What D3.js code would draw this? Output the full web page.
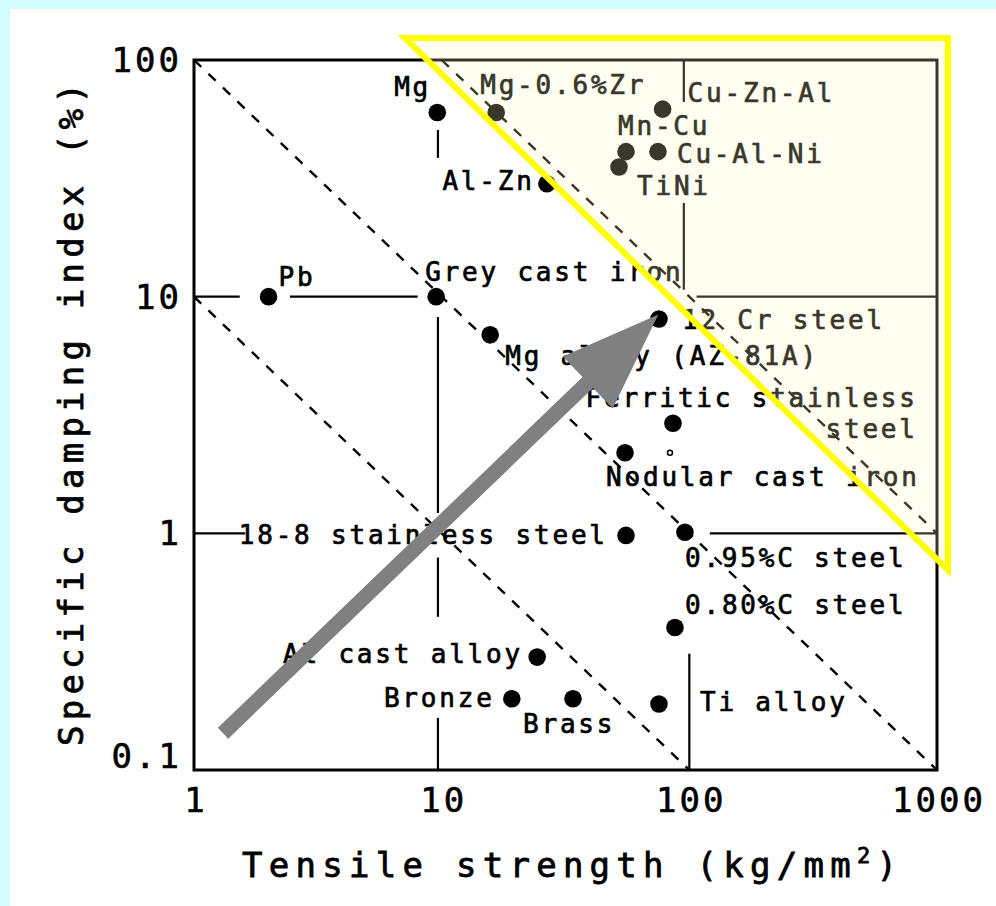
<!DOCTYPE html>
<html><head><meta charset="utf-8">
<script src="https://cdn.jsdelivr.net/npm/d3@7"></script>
<style>html,body{margin:0;padding:0;background:#d2fcff;} svg{display:block}</style>
</head><body>
<svg id="c" width="996" height="906"></svg>
<script>
// ---------- data ----------
const materials = ["Mg","Mg-0.6%Zr","Cu-Zn-Al","Mn-Cu","Cu-Al-Ni","TiNi","Al-Zn","Pb","Grey cast iron",
  "Mg alloy (AZ-81A)","12 Cr steel","Ferritic stainless steel","Nodular cast iron","18-8 stainless steel",
  "0.95%C steel","0.80%C steel","Al cast alloy","Bronze","Brass","Ti alloy"];
const tensile = [9.6,16.6,78,55.5,74.7,52,26.6,2.0,9.5,15.7,75.4,85.9,55,55.5,96,87.5,24.3,19.2,33.9,75.4];
const damping = [60,60,62,41,41,35.3,30,10,10,6.9,8.05,2.92,2.19,0.98,1.01,0.40,0.30,0.20,0.20,0.19];
const labelLines = [["Mg"],["Mg-0.6%Zr"],["Cu-Zn-Al"],["Mn-Cu"],["Cu-Al-Ni"],["TiNi"],["Al-Zn"],["Pb"],
  ["Grey cast iron"],["Mg alloy (AZ-81A)"],["12 Cr steel"],["Ferritic stainless","steel"],["Nodular cast iron"],
  ["18-8 stainless steel"],["0.95%C steel"],["0.80%C steel"],["Al cast alloy"],["Bronze"],["Brass"],["Ti alloy"]];
const smallMarkX = [83.5], smallMarkY = [2.19];
const xTickValues = [1,10,100,1000], xTickLabels = ["1","10","100","1000"];
const yTickValues = [0.1,1,10,100], yTickLabels = ["0.1","1","10","100"];
const isoConstants = [100, 10, 1000];          // dashed lines: damping = k / tensile
const guideSegments = [                          // [x1,y1,x2,y2] in data units
  [1,10,1.53,10],[2.44,10,8.0,10],
  [9.66,50.6,9.66,38.6],[9.66,8.2,9.66,1.22],[9.66,0.79,9.66,0.444],[9.66,0.166,9.66,0.1],
  [1,1,1.61,1],[121,1,1000,1],
  [95,100,95,66.5],[95,24.9,95,10.7],[107,10,1000,10],
  [100,0.31,100,0.1]];
const arrowFrom = [1.31,0.143], arrowTo = [75,8.4];
const highlightTri = [[7.1,124],[1107,124],[1107,0.70]];
const xTitle = "Tensile strength (kg/mm", xTitleSup = "2", xTitleEnd = ")";
const yTitle = "Specific damping index (%)";

// ---------- layout / style ----------
const labelLayout = [
  {a:"end",dx:-9,dy:-17},{a:"start",dx:-16,dy:-19},{a:"start",dx:25,dy:-7},{a:"start",dx:-8,dy:-17},
  {a:"start",dx:19,dy:11},{a:"start",dx:18,dy:28},{a:"end",dx:-15,dy:6},{a:"start",dx:10,dy:-11},
  {a:"start",dx:-11,dy:-16},{a:"start",dx:15,dy:30},{a:"start",dx:23,dy:10},{a:"end",dx:242,dy:-16,lh:31},
  {a:"start",dx:-19,dy:33},{a:"end",dx:-21,dy:9},{a:"start",dx:0,dy:35},{a:"start",dx:10,dy:-14},
  {a:"end",dx:-17,dy:6},{a:"end",dx:-20,dy:8},{a:"start",dx:-50,dy:34},{a:"start",dx:41,dy:7}];
const FONT = "'DejaVu Sans Mono', monospace";
const LS = 2.8;

const svg = d3.select("#c");
svg.append("rect").attr("x",10).attr("y",9).attr("width",986).attr("height",897).attr("fill","#fff");

const x = d3.scaleLog().domain([1,1000]).range([194,937]);
const y = d3.scaleLog().domain([0.1,100]).range([770,60]);

const g = svg.append("g");

// dashed iso lines
isoConstants.forEach(k => {
  const x1 = Math.max(1, k/100), x2 = Math.min(1000, k/0.1);
  g.append("line").attr("x1",x(x1)).attr("y1",y(k/x1)).attr("x2",x(x2)).attr("y2",y(k/x2))
    .attr("stroke","#000").attr("stroke-width",2.4).attr("stroke-dasharray","10,10");
});

// guide segments
g.selectAll("line.guide").data(guideSegments).enter().append("line").attr("class","guide")
  .attr("x1",d=>x(d[0])).attr("y1",d=>y(d[1])).attr("x2",d=>x(d[2])).attr("y2",d=>y(d[3]))
  .attr("stroke","#000").attr("stroke-width",2.2);

// frame
g.append("rect").attr("x",x(1)).attr("y",y(100)).attr("width",x(1000)-x(1)).attr("height",y(0.1)-y(100))
  .attr("fill","none").attr("stroke","#000").attr("stroke-width",3);

// points
const pts = materials.map((m,i)=>({m, tx:tensile[i], dv:damping[i], lines:labelLines[i], lay:labelLayout[i]}));
g.selectAll("circle.pt").data(pts).enter().append("circle").attr("class","pt")
  .attr("cx",d=>x(d.tx)).attr("cy",d=>y(d.dv)).attr("r",8.8).attr("fill","#000");
g.selectAll("circle.sm").data(smallMarkX).enter().append("circle").attr("class","sm")
  .attr("cx",(d,i)=>x(d)).attr("cy",(d,i)=>y(smallMarkY[i])).attr("r",2.5)
  .attr("fill","none").attr("stroke","#000").attr("stroke-width",1.5);

// labels
pts.forEach(d => {
  const L = d.lay;
  d.lines.forEach((t,j) => {
    g.append("text").attr("x", x(d.tx)+L.dx + (L.a==="end"?LS:0)).attr("y", y(d.dv)+L.dy + j*(L.lh||0))
      .attr("text-anchor",L.a).attr("font-family",FONT).attr("font-size",26)
      .attr("letter-spacing",LS).attr("fill","#000").attr("stroke","#000").attr("stroke-width",0.7).text(t);
  });
});

// tick labels
xTickValues.forEach((v,i)=>{
  g.append("text").attr("x",x(v)+2).attr("y",812).attr("text-anchor","middle")
   .attr("font-family",FONT).attr("font-size",34).attr("letter-spacing",3).attr("fill","#000")
   .attr("stroke","#000").attr("stroke-width",0.6).text(xTickLabels[i]);
});
yTickValues.forEach((v,i)=>{
  g.append("text").attr("x",182).attr("y",Math.min(y(v)+12,768)).attr("text-anchor","end")
   .attr("font-family",FONT).attr("font-size",34).attr("letter-spacing",3).attr("fill","#000")
   .attr("stroke","#000").attr("stroke-width",0.6).text(yTickLabels[i]);
});

// axis titles
const xt = g.append("text").attr("x",242).attr("y",877).attr("font-family",FONT).attr("font-size",34)
  .attr("fill","#000").attr("stroke","#000").attr("stroke-width",0.8)
  .attr("textLength",655).attr("lengthAdjust","spacing");
xt.append("tspan").text(xTitle);
xt.append("tspan").attr("font-size",22).attr("dy",-14).text(xTitleSup);
xt.append("tspan").attr("dy",14).text(xTitleEnd);

g.append("text").attr("transform","translate(83,746) rotate(-90)").attr("x",0).attr("y",0)
  .attr("font-family",FONT).attr("font-size",34).attr("fill","#000").attr("stroke","#000").attr("stroke-width",0.8)
  .attr("textLength",663).attr("lengthAdjust","spacing").text(yTitle);

// arrow
(function(){
  const p0=[x(arrowFrom[0]),y(arrowFrom[1])], p1=[x(arrowTo[0]),y(arrowTo[1])];
  const dx=p1[0]-p0[0], dy=p1[1]-p0[1], len=Math.hypot(dx,dy);
  const ux=dx/len, uy=dy/len, nx=-uy, ny=ux;
  const headLen=98, headHalf=36, sh=7.5;
  const b=[p1[0]-ux*headLen, p1[1]-uy*headLen];
  const P=[[p0[0]+nx*sh,p0[1]+ny*sh],[b[0]+nx*sh,b[1]+ny*sh],[b[0]+nx*headHalf,b[1]+ny*headHalf],p1,
           [b[0]-nx*headHalf,b[1]-ny*headHalf],[b[0]-nx*sh,b[1]-ny*sh],[p0[0]-nx*sh,p0[1]-ny*sh]];
  g.append("polygon").attr("points",P.map(p=>p.join(",")).join(" ")).attr("fill","#808080");
})();

// highlight triangle
g.append("polygon").attr("points",highlightTri.map(p=>[x(p[0]),y(p[1])].join(",")).join(" "))
  .attr("fill","rgb(255,252,190)").attr("fill-opacity",0.22)
  .attr("stroke","#ffff00").attr("stroke-width",6).attr("stroke-linejoin","miter");
</script>
</body></html>
